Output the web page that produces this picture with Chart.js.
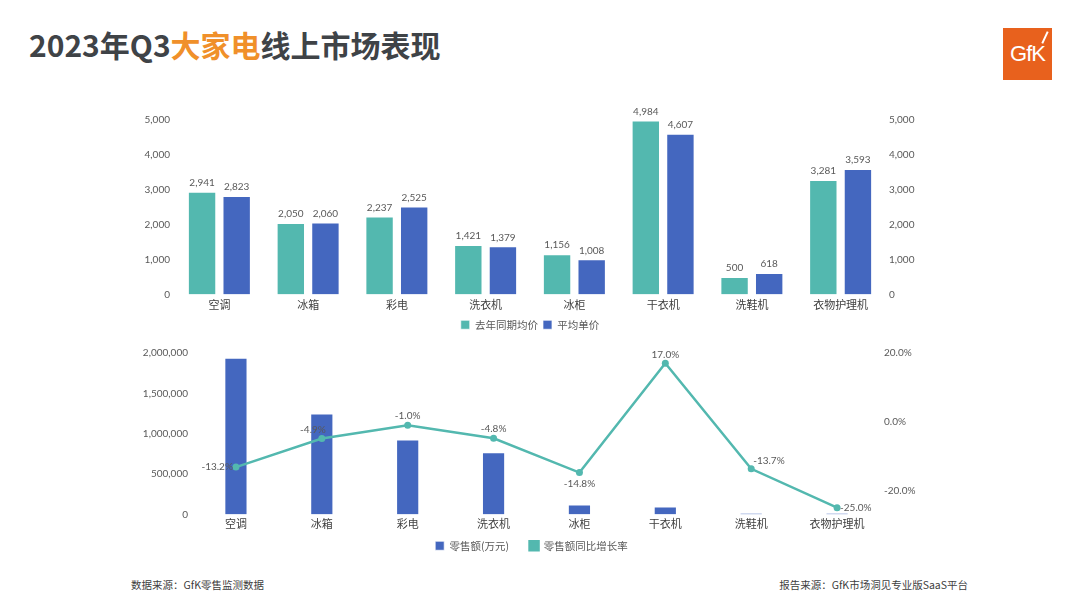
<!DOCTYPE html>
<html>
<head>
<meta charset="utf-8">
<script src="https://cdn.jsdelivr.net/npm/chart.js@4.4.0/dist/chart.umd.min.js"></script>
<style>
  body { margin: 0; width: 1080px; height: 608px; background: #fff; position: relative; overflow: hidden;
         font-family: "Noto Sans CJK SC", sans-serif; }
  #title { position: absolute; left: 29px; top: 22px; font-size: 30px; font-weight: bold; color: #3f4347; white-space: nowrap; }
  #title span { color: #f0902a; }
  #logo { position: absolute; left: 1003px; top: 28px; width: 49px; height: 52px; background: #e8611d; }
  #logo .txt { position: absolute; left: 0; width: 49px; top: 13px; text-align: center; color: #fff;
               font-family: "Liberation Sans", sans-serif; font-size: 22px; letter-spacing: -1px; }
  #logo .slash { position: absolute; left: 41px; top: 3px; width: 2px; height: 13px; background: #fff; transform: rotate(25deg); }
  .foot { position: absolute; top: 577px; font-size: 10.5px; color: #404040; white-space: nowrap; }
  #topChart { position: absolute; left: 0; top: 100px; }
  #bottomChart { position: absolute; left: 0; top: 340px; }
</style>
</head>
<body>
<div id="title">2023年Q3<span>大家电</span>线上市场表现</div>
<div id="logo"><div class="slash"></div><div class="txt">GfK</div></div>
<div class="foot" style="left:131px">数据来源：GfK零售监测数据</div>
<div class="foot" style="right:112px">报告来源：GfK市场洞见专业版SaaS平台</div>
<canvas id="topChart" width="1080" height="240"></canvas>
<canvas id="bottomChart" width="1080" height="221"></canvas>
<script>
// categories and values
const categories = ['空调', '冰箱', '彩电', '洗衣机', '冰柜', '干衣机', '洗鞋机', '衣物护理机'];
const lastYearPrice = [2941, 2050, 2237, 1421, 1156, 4984, 500, 3281];
const avgPrice = [2823, 2060, 2525, 1379, 1008, 4607, 618, 3593];
const salesAmount = [1940000, 1250000, 930000, 770000, 125000, 100000, 20000, 20000];
const salesGrowth = [-13.2, -4.9, -1.0, -4.8, -14.8, 17.0, -13.7, -25.0];
const growthTicks = [-20, 0, 20];

const TEAL = '#53b8af';
const BLUE = '#4467bf';
const FONT = 'Lato, "Noto Sans CJK SC", sans-serif';
const CJK = '"Noto Sans CJK SC", sans-serif';
const TICK_COLOR = '#595959';

Chart.defaults.font.family = FONT;
Chart.defaults.animation = false;

// small plugin that writes the value next to every bar / point
const valueLabels = {
    id: 'valueLabels',
    afterDatasetsDraw(chart, args, opts) {
        const ctx = chart.ctx;
        ctx.save();
        ctx.font = '10px ' + FONT;
        ctx.fillStyle = TICK_COLOR;
        chart.data.datasets.forEach((ds, di) => {
            const meta = chart.getDatasetMeta(di);
            const anchors = ds.labelAnchors;
            meta.data.forEach((el, i) => {
                const text = opts.format[di](ds.data[i]);
                const a = anchors ? anchors[i] : 'top';
                let x = el.x, y = el.y;
                ctx.textAlign = 'center';
                ctx.textBaseline = 'bottom';
                if (a === 'top') { y -= 4; }
                else if (a === 'bottom') { ctx.textBaseline = 'top'; y += 6; }
                else if (a === 'left') { ctx.textAlign = 'right'; ctx.textBaseline = 'middle'; x -= 3; }
                else if (a === 'right') { ctx.textAlign = 'left'; ctx.textBaseline = 'middle'; x += 3; }
                else if (a === 'topLeft') { ctx.textAlign = 'right'; x += 4; y -= 4; }
                else if (a === 'topRight') { ctx.textAlign = 'left'; x += 2; y -= 3; }
                ctx.fillText(text, x, y);
            });
        });
        ctx.restore();
    }
};

function fixWidth(w) { return scale => { scale.width = w; }; }
function fixHeight(h) { return scale => { scale.height = h; }; }
const noGrid = { display: false, drawTicks: false };

// top chart - average prices
new Chart(document.getElementById('topChart').getContext('2d'), {
    type: 'bar',
    data: {
        labels: categories,
        datasets: [
            { label: '去年同期均价', data: lastYearPrice, backgroundColor: TEAL, borderColor: 'rgba(255,255,255,0.7)', borderWidth: 1, yAxisID: 'y' },
            { label: '平均单价', data: avgPrice, backgroundColor: BLUE, borderColor: 'rgba(255,255,255,0.7)', borderWidth: 1, yAxisID: 'y' }
        ]
    },
    options: {
        responsive: false,
        categoryPercentage: 0.78,
        barPercentage: 0.82,
        layout: { padding: { top: 20, left: 135, right: 155, bottom: 0 } },
        scales: {
            x: {
                grid: noGrid, border: { display: false },
                ticks: { color: '#404040', font: { size: 11, family: CJK }, padding: 4 },
                afterFit: fixHeight(20)
            },
            y: {
                min: 0, max: 5000,
                grid: noGrid, border: { display: false },
                ticks: { stepSize: 1000, color: TICK_COLOR, font: { size: 10 }, padding: 5,
                         callback: v => v.toLocaleString('en-US') },
                afterFit: fixWidth(40)
            },
            y2: {
                position: 'right', min: 0, max: 5000,
                grid: noGrid, border: { display: false },
                ticks: { stepSize: 1000, color: TICK_COLOR, font: { size: 10 }, padding: 4,
                         callback: v => v.toLocaleString('en-US') },
                afterFit: fixWidth(40)
            }
        },
        plugins: {
            tooltip: { enabled: false },
            legend: {
                position: 'bottom',
                labels: { boxWidth: 9, boxHeight: 9, padding: 5, color: TICK_COLOR, font: { size: 10.5, family: CJK } }
            },
            valueLabels: { format: [v => v.toLocaleString('en-US'), v => v.toLocaleString('en-US')] }
        }
    },
    plugins: [valueLabels]
});

// bottom chart - sales amount and growth
new Chart(document.getElementById('bottomChart').getContext('2d'), {
    type: 'bar',
    data: {
        labels: categories,
        datasets: [
            { label: '零售额(万元)', data: salesAmount, backgroundColor: BLUE, borderColor: 'rgba(255,255,255,0.7)',
              borderWidth: 1, yAxisID: 'y', order: 1, barPercentage: 0.9, categoryPercentage: 0.3 },
            { type: 'line', label: '零售额同比增长率', data: salesGrowth, yAxisID: 'y2', order: 0,
              borderColor: TEAL, backgroundColor: TEAL, borderWidth: 2.5, pointRadius: 3.5,
              pointBackgroundColor: TEAL, pointBorderWidth: 0, tension: 0,
              labelAnchors: ['left', 'topLeft', 'top', 'top', 'bottom', 'top', 'topRight', 'right'] }
        ]
    },
    options: {
        responsive: false,
        layout: { padding: { top: 13, left: 133, right: 150, bottom: 0 } },
        scales: {
            x: {
                grid: noGrid, border: { display: false },
                ticks: { color: '#404040', font: { size: 11, family: CJK }, padding: 3 },
                afterFit: fixHeight(16)
            },
            y: {
                min: 0, max: 2000000,
                grid: noGrid, border: { display: false },
                ticks: { stepSize: 500000, color: TICK_COLOR, font: { size: 10 }, padding: 5,
                         callback: v => v.toLocaleString('en-US') },
                afterFit: fixWidth(60)
            },
            y2: {
                position: 'right', min: -27, max: 20,
                grid: noGrid, border: { display: false },
                afterBuildTicks: scale => { scale.ticks = growthTicks.map(v => ({ value: v })); },
                ticks: { color: TICK_COLOR, font: { size: 10 }, padding: 4,
                         callback: v => v.toFixed(1) + '%' },
                afterFit: fixWidth(50)
            }
        },
        plugins: {
            tooltip: { enabled: false },
            legend: {
                position: 'bottom',
                labels: {
                    boxWidth: 9, boxHeight: 9, padding: 10, color: TICK_COLOR, font: { size: 10.5, family: CJK },
                    sort: (a, b) => a.datasetIndex - b.datasetIndex,
                    // widen the gap after the first entry without growing the legend height
                    generateLabels: chart => Chart.defaults.plugins.legend.labels.generateLabels(chart).map(item => {
                        if (item.datasetIndex === 0) { item.text = item.text + '\u2002\u2002'; }
                        return item;
                    })
                }
            },
            valueLabels: { format: [() => '', v => v.toFixed(1) + '%'] }
        }
    },
    plugins: [valueLabels]
});
</script>
</body>
</html>
